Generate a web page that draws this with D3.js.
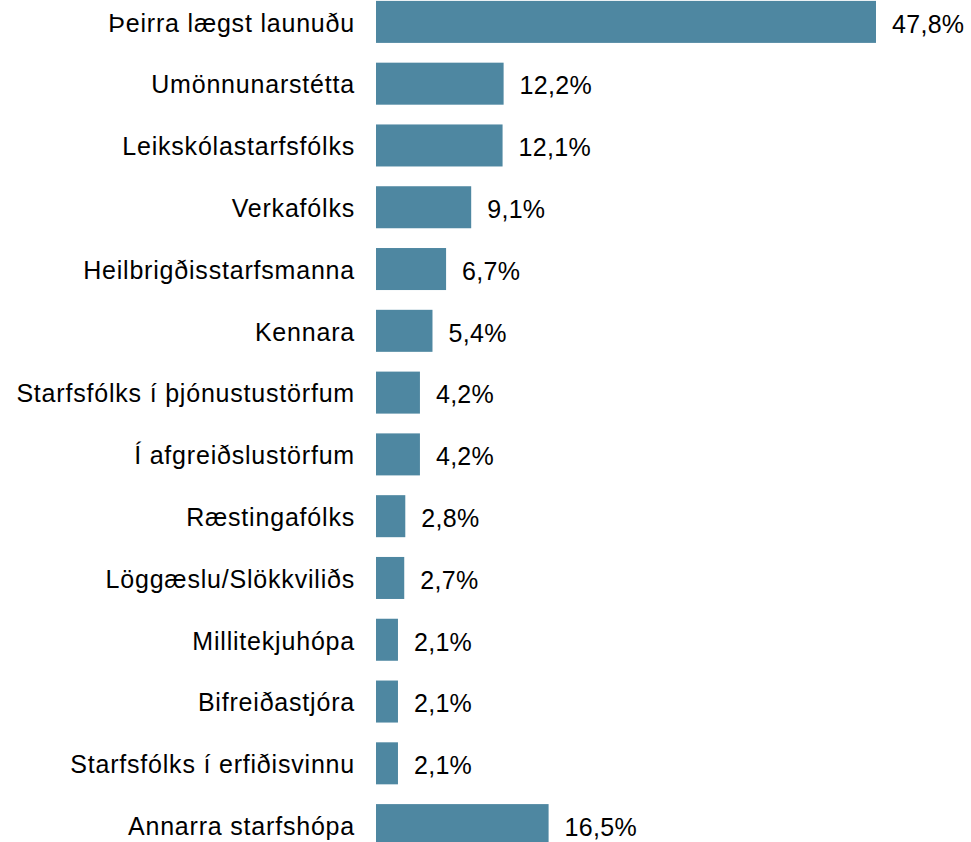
<!DOCTYPE html>
<html>
<head>
<meta charset="utf-8">
<script src="https://cdn.jsdelivr.net/npm/d3@7"></script>
<style>
  body { margin: 0; background: #fff; }
  svg { display: block; }
  text { font-family: "Liberation Sans", Arial, sans-serif; fill: #000; }
</style>
</head>
<body>
<svg id="svg" width="971" height="842"></svg>
<script>
const categories = [
  "Þeirra lægst launuðu",
  "Umönnunarstétta",
  "Leikskólastarfsfólks",
  "Verkafólks",
  "Heilbrigðisstarfsmanna",
  "Kennara",
  "Starfsfólks í þjónustustörfum",
  "Í afgreiðslustörfum",
  "Ræstingafólks",
  "Löggæslu/Slökkviliðs",
  "Millitekjuhópa",
  "Bifreiðastjóra",
  "Starfsfólks í erfiðisvinnu",
  "Annarra starfshópa"
];
const values = [47.8, 12.2, 12.1, 9.1, 6.7, 5.4, 4.2, 4.2, 2.8, 2.7, 2.1, 2.1, 2.1, 16.5];

const data = categories.map((c, i) => ({ name: c, value: values[i] }));

const svg = d3.select("#svg");

const x = d3.scaleLinear()
  .domain([0, 47.8])
  .range([376, 876]);

const y = d3.scaleBand()
  .domain(categories)
  .range([-9, 856])
  .paddingInner(0.32)
  .paddingOuter(0.16);

const fmt = v => v.toFixed(1).replace(".", ",") + "%";

const rows = svg.selectAll("g.row")
  .data(data)
  .enter()
  .append("g")
  .attr("class", "row");

rows.append("rect")
  .attr("x", x(0))
  .attr("y", d => y(d.name))
  .attr("width", d => x(d.value) - x(0))
  .attr("height", y.bandwidth())
  .style("fill", "#4e87a1");

rows.append("text")
  .attr("x", 355)
  .attr("y", d => y(d.name) + y.bandwidth() / 2 + 1)
  .attr("dy", "0.35em")
  .attr("text-anchor", "end")
  .style("font-size", "25px")
  .style("letter-spacing", "0.8px")
  .text(d => d.name);

rows.append("text")
  .attr("x", d => x(d.value) + 16)
  .attr("y", d => y(d.name) + y.bandwidth() / 2 + 2)
  .attr("dy", "0.35em")
  .style("font-size", "25px")
  .style("letter-spacing", "0.3px")
  .text(d => fmt(d.value));
</script>
</body>
</html>
